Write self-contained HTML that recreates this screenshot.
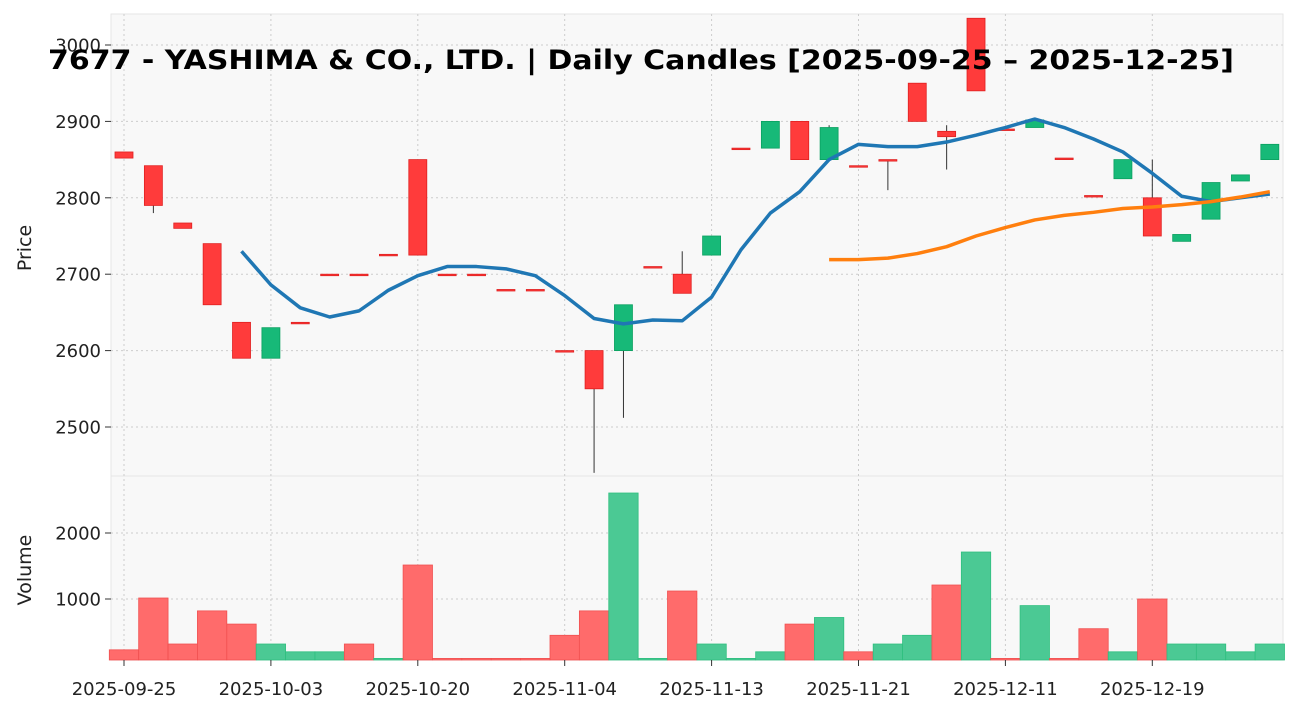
<!DOCTYPE html>
<html><head><meta charset="utf-8"><style>
body{margin:0;background:#fff;font-family:"DejaVu Sans","Liberation Sans",sans-serif}
</style></head><body>
<svg id="chart" width="1297" height="711" xmlns="http://www.w3.org/2000/svg" style="display:block;font-family:'DejaVu Sans','Liberation Sans',sans-serif">
<rect x="111" y="14" width="1172" height="462" fill="#f8f8f8" stroke="#e6e6e6"/>
<rect x="111" y="476" width="1172" height="184" fill="#f8f8f8" stroke="#e6e6e6"/>
<g id="grid"></g><g id="vol"></g><g id="candles"></g><g id="lines"></g><g id="axes"></g>
<text x="48" y="69" textLength="1186" lengthAdjust="spacingAndGlyphs" font-size="27" font-weight="bold" fill="#000">7677 - YASHIMA &amp; CO., LTD. | Daily Candles [2025-09-25 – 2025-12-25]</text>
<text transform="translate(31,248) rotate(-90)" text-anchor="middle" font-size="19" fill="#222">Price</text>
<text transform="translate(31,570) rotate(-90)" text-anchor="middle" font-size="19" fill="#222">Volume</text>
</svg>
<script>
const opens=[2860,2842,2767,2740,2637,2590,2637,2700,2700,2726,2850,2700,2700,2680,2680,2600,2600,2600,2710,2700,2725,2865,2865,2900,2850,2842,2850,2950,2887,3035,2890,2892,2852,2803,2825,2800,2743,2772,2822,2850];
const closes=[2852,2790,2760,2660,2590,2630,2637,2700,2700,2726,2725,2700,2700,2680,2680,2600,2550,2660,2710,2675,2750,2865,2900,2850,2892,2842,2850,2900,2880,2940,2890,2902,2852,2803,2850,2750,2752,2820,2830,2870];
const highs=[2860,2842,2767,2740,2637,2630,2637,2700,2700,2726,2850,2700,2700,2680,2680,2600,2600,2660,2710,2730,2750,2865,2900,2900,2895,2842,2850,2950,2895,3035,2890,2902,2852,2803,2850,2850,2752,2820,2830,2870];
const lows=[2852,2780,2760,2660,2590,2590,2637,2700,2700,2726,2725,2700,2700,2680,2680,2600,2440,2512,2710,2675,2725,2865,2865,2850,2850,2842,2810,2900,2837,2940,2890,2892,2852,2803,2825,2750,2743,2772,2822,2850];
const volumes=[230,1015,318,820,620,318,200,200,318,100,1515,100,100,100,100,450,820,2606,100,1121,318,100,200,620,720,200,318,450,1212,1712,100,900,100,550,200,1000,318,318,200,318];
const volDir=[0,0,0,0,0,1,1,1,0,1,0,0,0,0,0,0,0,1,1,0,1,1,1,0,1,0,1,1,0,1,0,1,0,0,1,0,1,1,1,1];
const ma5=[null,null,null,null,2730,2686,2656,2644,2652,2679,2698,2710,2710,2707,2698,2672,2642,2635,2640,2639,2670,2732,2780,2808,2850,2870,2867,2867,2873,2882,2892,2903,2892,2877,2860,2832,2802,2795,2800,2805];
const ma25=[null,null,null,null,null,null,null,null,null,null,null,null,null,null,null,null,null,null,null,null,null,null,null,null,2719,2719,2721,2727,2736,2750,2761,2771,2777,2781,2786,2788,2791,2795,2801,2808];
const priceTicks=[2500,2600,2700,2800,2900,3000];
const volTicks=[1000,2000];
const xTickIdx=[0,5,10,15,20,25,30,35];
const xTickLabels=["2025-09-25","2025-10-03","2025-10-20","2025-11-04","2025-11-13","2025-11-21","2025-12-11","2025-12-19"];
const NS="http://www.w3.org/2000/svg";
const xs=i=>124+i*29.38;
const yp=p=>45+(3000-p)*0.764;
const yv=v=>665-v*0.066;
function mk(tag,attrs,parent){const e=document.createElementNS(NS,tag);for(const k in attrs)e.setAttribute(k,attrs[k]);document.getElementById(parent).appendChild(e);return e;}
priceTicks.forEach((t,k)=>{
 const l=mk('line',{x1:111,x2:1283,y1:yp(t),y2:yp(t),stroke:'#cccccc','stroke-dasharray':'2,3'},'grid');
 
 
 mk('line',{x1:105,x2:111,y1:yp(t),y2:yp(t),stroke:'#333'},'axes');
 const tx=mk('text',{x:101,y:yp(t)+6.5,'text-anchor':'end','font-size':18,fill:'#222'},'axes');tx.textContent=t;
 
 
});
volTicks.forEach(t=>{
 const l=mk('line',{x1:111,x2:1283,y1:yv(t),y2:yv(t),stroke:'#cccccc','stroke-dasharray':'2,3'},'grid');
 
 
 mk('line',{x1:105,x2:111,y1:yv(t),y2:yv(t),stroke:'#333'},'axes');
 const tx=mk('text',{x:101,y:yv(t)+6.5,'text-anchor':'end','font-size':18,fill:'#222'},'axes');tx.textContent=t;
 
 
});
xTickIdx.forEach((i,k)=>{
 const l=mk('line',{x1:xs(i),x2:xs(i),y1:14,y2:660,stroke:'#cccccc','stroke-dasharray':'2,3'},'grid');
 
 
 mk('line',{x1:xs(i),x2:xs(i),y1:660,y2:666,stroke:'#333'},'axes');
 const tx=mk('text',{x:xs(i),y:695,'text-anchor':'middle','font-size':18,fill:'#222'},'axes');tx.textContent=xTickLabels[k];
 
 
});
volumes.forEach((v,i)=>{
 const y=Math.max(yv(v),476);
 const r=mk('rect',{x:xs(i)-14.7,y:y,width:29.38,height:660-y,fill:volDir[i]?'#4bc994':'#ff6b6b',stroke:volDir[i]?'#2fbf7f':'#f05050','stroke-width':0.8},'vol');
 
 
});
opens.forEach((o,i)=>{
 const c=closes[i],up=c>o,col=up?'#17b978':'#ff3b3b',ed=up?'#0aa060':'#e02020';
 const w=mk('line',{x1:xs(i),x2:xs(i),y1:yp(highs[i]),y2:yp(lows[i]),stroke:'#333','stroke-width':1},'candles');
 
 
 const top=yp(Math.max(o,c)),h=Math.max(yp(Math.min(o,c))-top,1.5);
 const r=mk('rect',{x:xs(i)-9,y:top,width:18,height:h,fill:col,stroke:ed,'stroke-width':0.8},'candles');
 
 
});
function line(arr,color,name){
 let d='';arr.forEach((v,i)=>{if(v==null)return;d+=(d?'L':'M')+xs(i)+','+yp(v);});
 const p=mk('path',{d:d,fill:'none',stroke:color,'stroke-width':3.5,'stroke-linejoin':'round'},'lines');
 
 
}
line(ma5,'#1f77b4','ma5-line');
line(ma25,'#ff7f0e','ma25-line');
</script>
</body></html>
